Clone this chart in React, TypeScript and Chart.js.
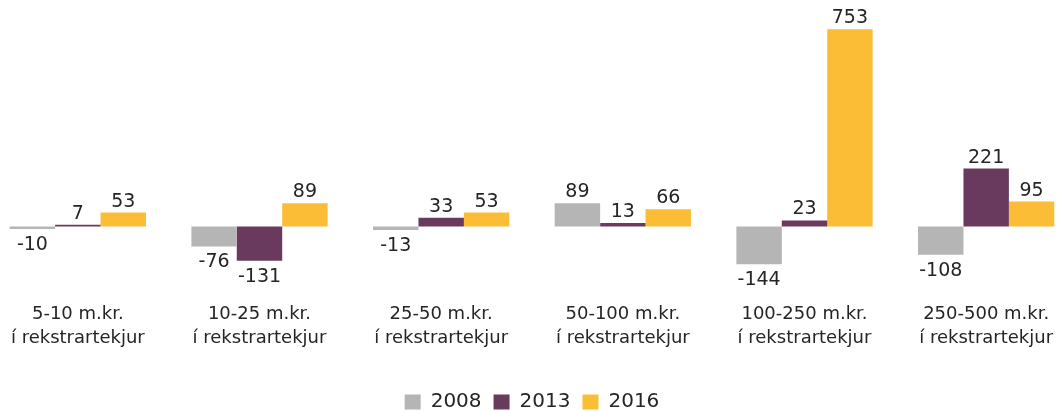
import React, { useEffect, useRef } from "react";
import { Chart, registerables } from "chart.js";

Chart.register(...registerables);

const categories: string[][] = [
  ["5-10 m.kr.", "í rekstrartekjur"],
  ["10-25 m.kr.", "í rekstrartekjur"],
  ["25-50 m.kr.", "í rekstrartekjur"],
  ["50-100 m.kr.", "í rekstrartekjur"],
  ["100-250 m.kr.", "í rekstrartekjur"],
  ["250-500 m.kr.", "í rekstrartekjur"],
];
const seriesNames = ["2008", "2013", "2016"];
const values2008 = [-10, -76, -13, 89, -144, -108];
const values2013 = [7, -131, 33, 13, 23, 221];
const values2016 = [53, 89, 53, 66, 753, 95];
const colors = ["#b5b5b5", "#6a3a5e", "#fbbd35"];

const FONT = "'DejaVu Sans', sans-serif";
const TEXT = "#252525";

const valueLabels = {
  id: "valueLabels",
  afterDatasetsDraw(chart: any) {
    const ctx = chart.ctx;
    ctx.save();
    ctx.font = `19px ${FONT}`;
    ctx.fillStyle = TEXT;
    ctx.textAlign = "center";
    ctx.textBaseline = "alphabetic";
    chart.data.datasets.forEach((ds: any, di: number) => {
      const meta = chart.getDatasetMeta(di);
      meta.data.forEach((bar: any, i: number) => {
        const v = ds.data[i];
        const y = v >= 0 ? Math.min(bar.y, bar.base) - 6 : Math.max(bar.y, bar.base) + 21;
        ctx.fillText(String(v), bar.x, y);
      });
    });
    ctx.restore();
  },
};

export default function App() {
  const ref = useRef<HTMLCanvasElement | null>(null);
  useEffect(() => {
    const canvas = ref.current!;
    const chart = new Chart(canvas, {
      type: "bar",
      data: {
        labels: categories,
        datasets: [values2008, values2013, values2016].map((d, i) => ({
          label: seriesNames[i],
          data: d,
          backgroundColor: colors[i],
          borderWidth: 0,
          categoryPercentage: 0.75,
          barPercentage: 1.0,
        })),
      },
      options: {
        responsive: false,
        animation: false,
        layout: { padding: { top: 17, bottom: 8, left: 0, right: 0 } },
        plugins: {
          tooltip: { enabled: false },
          legend: {
            position: "bottom",
            labels: {
              font: { family: FONT, size: 20 },
              color: TEXT,
              boxWidth: 16,
              boxHeight: 15,
              padding: 12,
            },
          },
        },
        scales: {
          x: {
            grid: { display: false, drawTicks: false },
            border: { display: false },
            ticks: {
              font: { family: FONT, size: 18, lineHeight: 1.33 },
              color: TEXT,
              padding: 12,
              maxRotation: 0,
              autoSkip: false,
            },
            afterFit(scale: any) {
              scale.height = 90;
            },
          },
          y: {
            display: false,
            min: -242.5,
            max: 800,
          },
        },
      },
      plugins: [valueLabels],
    });
    return () => chart.destroy();
  }, []);
  return (
    <div style={{ position: "fixed", left: 0, top: 0, width: 1059, height: 411, overflow: "hidden", background: "#fff" }}>
      <canvas ref={ref} width={1090} height={430} style={{ position: "absolute", left: -13, top: 0, width: 1090, height: 430 }} />
    </div>
  );
}
